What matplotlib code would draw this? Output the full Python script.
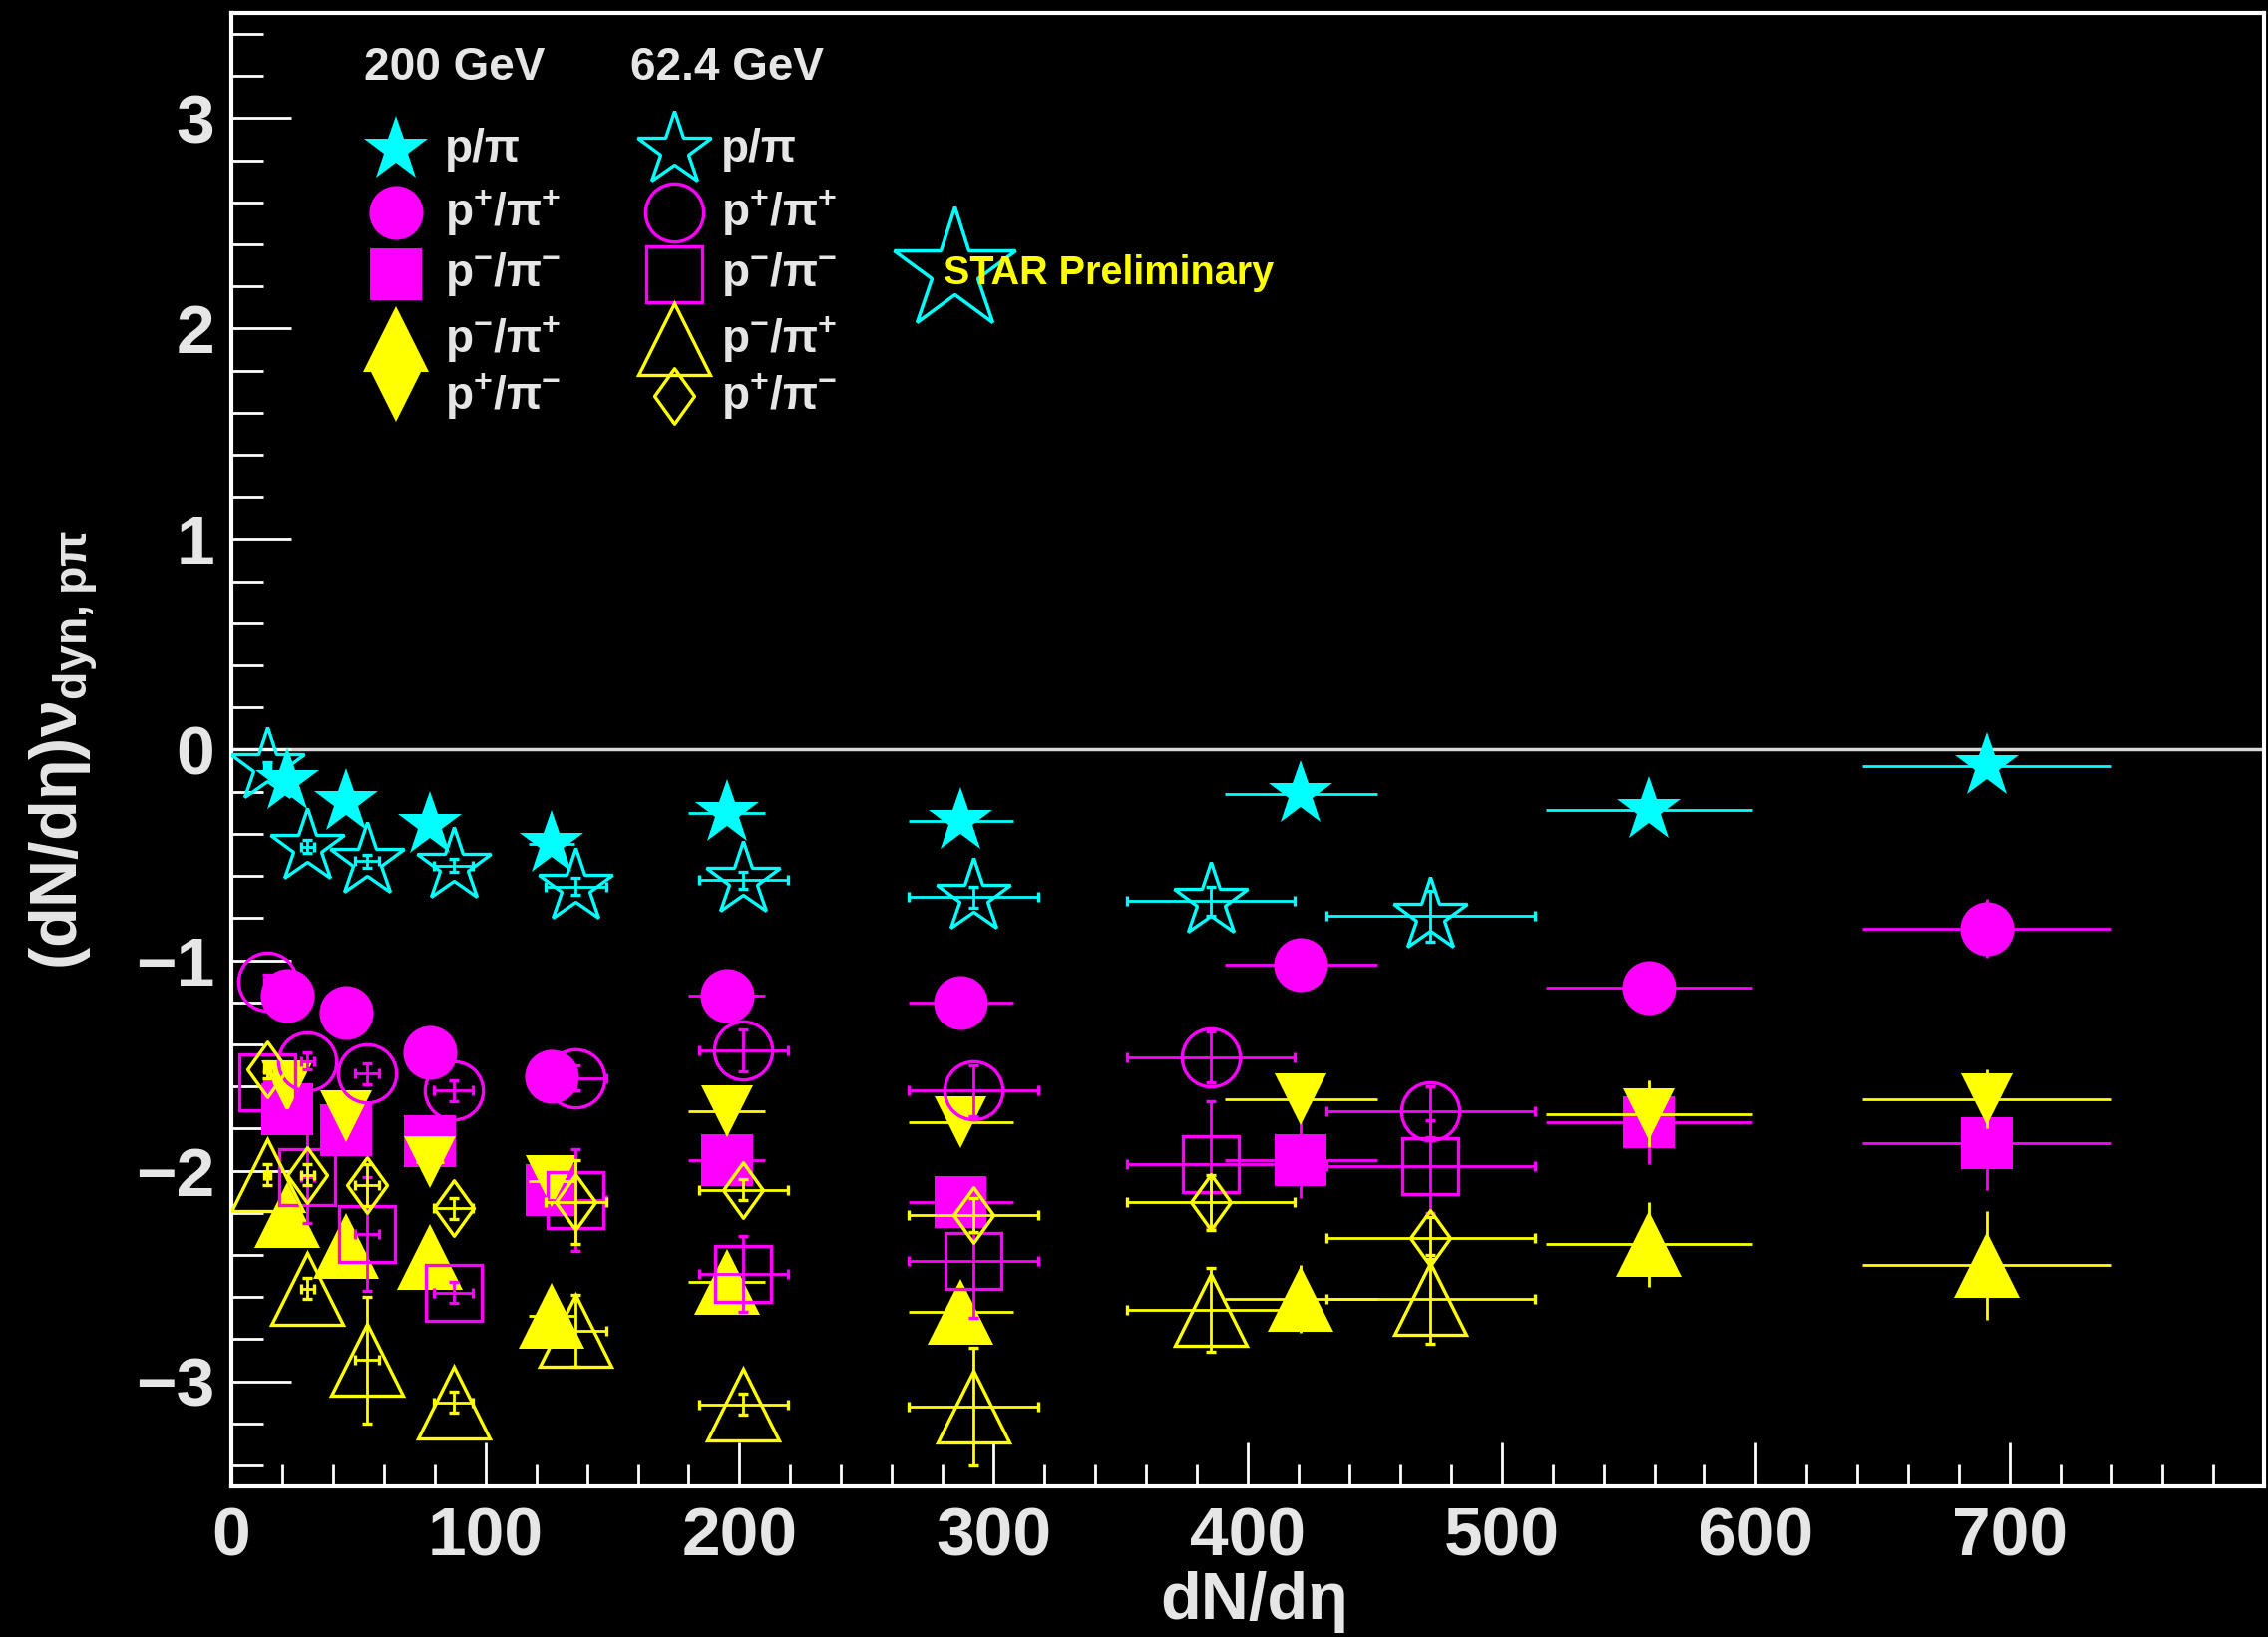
import matplotlib
matplotlib.use('Agg')
import matplotlib.pyplot as plt
import numpy as np
from matplotlib.path import Path
from matplotlib.ticker import MultipleLocator, FixedLocator

plt.rcParams['font.family'] = ['Liberation Sans', 'DejaVu Sans']
plt.rcParams['font.weight'] = 'bold'
plt.rcParams['mathtext.default'] = 'regular'

CYAN = '#00ffff'
MAGENTA = '#ff00ff'
YELLOW = '#ffff00'
FG = '#e6e6e6'

# ---------------- data ----------------
# 200 GeV (filled markers)
x_200 = [22, 45, 78, 126, 195, 287, 421, 558, 691]
xerr_200 = [1.5, 3, 5.5, 9, 15, 20.6, 30, 40.6, 49]
pp_200 = [-0.15, -0.25, -0.36, -0.45, -0.30, -0.34, -0.21, -0.285, -0.08]
pp_200_err = [0.02, 0.02, 0.02, 0.03, 0.03, 0.03, 0.04, 0.04, 0.04]
ppl_200 = [-1.17, -1.25, -1.44, -1.55, -1.17, -1.20, -1.02, -1.13, -0.85]
ppl_200_err = [0.03, 0.03, 0.03, 0.04, 0.04, 0.05, 0.06, 0.08, 0.14]
pmi_200 = [-1.71, -1.81, -1.86, -2.09, -1.95, -2.15, -1.95, -1.77, -1.87]
pmi_200_err = [0.04, 0.04, 0.05, 0.06, 0.06, 0.08, 0.18, 0.20, 0.22]
pmpl_200 = [-2.21, -2.36, -2.41, -2.69, -2.53, -2.67, -2.61, -2.35, -2.45]
pmpl_200_err = [0.04, 0.05, 0.05, 0.06, 0.06, 0.10, 0.16, 0.20, 0.26]
pplm_200 = [-1.60, -1.74, -1.96, -2.05, -1.72, -1.77, -1.66, -1.73, -1.66]
pplm_200_err = [0.03, 0.04, 0.04, 0.05, 0.05, 0.07, 0.10, 0.16, 0.14]

# 62.4 GeV (open markers)
x_62 = [14, 30, 53.5, 87.5, 135.5, 201.5, 292, 385.5, 472]
xerr_62 = [1.2, 2.6, 4.7, 7.6, 12, 17.4, 25.5, 33, 41]
pp_62 = [-0.08, -0.46, -0.53, -0.55, -0.65, -0.62, -0.70, -0.72, -0.79]
pp_62_err = [0.02, 0.03, 0.03, 0.03, 0.04, 0.04, 0.05, 0.07, 0.12]
ppl_62 = [-1.10, -1.48, -1.54, -1.62, -1.56, -1.43, -1.62, -1.46, -1.72]
ppl_62_err = [0.03, 0.04, 0.05, 0.05, 0.06, 0.10, 0.12, 0.12, 0.12]
pmi_62 = [-1.58, -2.03, -2.30, -2.58, -2.14, -2.49, -2.43, -1.97, -1.98]
pmi_62_err = [0.05, 0.22, 0.27, 0.05, 0.24, 0.18, 0.27, 0.30, 0.22]
pmpl_62 = [-2.02, -2.56, -2.90, -3.10, -2.76, -3.11, -3.12, -2.66, -2.61]
pmpl_62_err = [0.05, 0.05, 0.30, 0.05, 0.17, 0.05, 0.28, 0.20, 0.21]
pplm_62 = [-1.52, -2.02, -2.07, -2.18, -2.15, -2.09, -2.21, -2.15, -2.32]
pplm_62_err = [0.04, 0.05, 0.10, 0.05, 0.20, 0.05, 0.08, 0.13, 0.10]

labels = ['p/π', 'p$^{+}$/π$^{+}$', 'p$^{-}$/π$^{-}$', 'p$^{-}$/π$^{+}$', 'p$^{+}$/π$^{-}$']

DIAMOND = Path([(0, 1), (0.72, 0), (0, -1), (-0.72, 0), (0, 1)],
               [Path.MOVETO, Path.LINETO, Path.LINETO, Path.LINETO, Path.CLOSEPOLY])

# ---------------- figure ----------------
fig = plt.figure(figsize=(22.74, 16.41), dpi=100, facecolor='black')
ax = fig.add_axes([0.1020, 0.0920, 0.8962, 0.9001], facecolor='black')

ax.set_xlim(0, 800)
ax.set_ylim(-3.5, 3.5)

ax.axhline(0, color='#d8d8d8', lw=2.5, zorder=1)

err_kw = dict(elinewidth=2.0, capsize=3.5, capthick=2.0, linestyle='none')

series_200 = [
    (pp_200, pp_200_err, '*', CYAN, 49),
    (ppl_200, ppl_200_err, 'o', MAGENTA, 39),
    (pmi_200, pmi_200_err, 's', MAGENTA, 38),
    (pplm_200, pplm_200_err, 'v', YELLOW, 38),
    (pmpl_200, pmpl_200_err, '^', YELLOW, 47),
]
series_62 = [
    (pp_62, pp_62_err, '*', CYAN, 56),
    (ppl_62, ppl_62_err, 'o', MAGENTA, 42),
    (pmi_62, pmi_62_err, 's', MAGENTA, 40),
    (pplm_62, pplm_62_err, DIAMOND, YELLOW, 40),
    (pmpl_62, pmpl_62_err, '^', YELLOW, 52),
]

z = 3
for y, ye, m, c, ms in series_200:
    ax.errorbar(x_200, y, xerr=xerr_200, yerr=ye, marker=m, color=c, ms=ms,
                mfc=c, mec=c, mew=0, zorder=z, **err_kw)
    z += 1
for y, ye, m, c, ms in series_62:
    ax.errorbar(x_62, y, xerr=xerr_62, yerr=ye, marker=m, color=c, ms=ms,
                mfc='none', mec=c, mew=2.4, zorder=z, **err_kw)
    z += 1

# ---------------- axes styling ----------------
for s in ax.spines.values():
    s.set_color('white')
    s.set_linewidth(3)

ax.xaxis.set_major_locator(FixedLocator(np.arange(0, 800, 100)))
ax.xaxis.set_minor_locator(FixedLocator(np.arange(0, 800, 20)))
ax.yaxis.set_major_locator(MultipleLocator(1))
ax.yaxis.set_minor_locator(MultipleLocator(0.2))

ax.tick_params(axis='x', which='major', direction='in', length=32, width=2,
               color='white', labelcolor=FG, labelsize=50, pad=14)
ax.tick_params(axis='x', which='minor', direction='in', length=16, width=2, color='white')
ax.tick_params(axis='y', which='major', direction='in', length=43, width=2,
               color='white', labelcolor=FG, labelsize=50, pad=12)
ax.tick_params(axis='y', which='minor', direction='in', length=23, width=2, color='white')
for lab in ax.get_xticklabels() + ax.get_yticklabels():
    lab.set_fontweight('bold')

fig.text(0.028, 0.542, '(dN/dη)ν$_{dyn,pπ}$', rotation=90, ha='center', va='center',
         fontsize=48, color=FG, fontweight='bold')
fig.text(0.553, 0.011, 'dN/dη', ha='center', va='baseline', fontsize=48,
         color=FG, fontweight='bold')

# ---------------- legend ----------------
tr = ax.transAxes
ax.text(0.110, 0.963, '200 GeV', transform=tr, ha='center', va='center',
        fontsize=33, color=FG, fontweight='bold')
ax.text(0.244, 0.963, '62.4 GeV', transform=tr, ha='center', va='center',
        fontsize=33, color=FG, fontweight='bold')
rows = [0.907, 0.8646, 0.8223, 0.7786, 0.740]
leg_200 = [series_200[0], series_200[1], series_200[2], series_200[4], series_200[3]]
leg_62 = [series_62[0], series_62[1], series_62[2], series_62[4], series_62[3]]
for i, yy in enumerate(rows):
    _, _, m, c, ms = leg_200[i]
    ax.plot([0.081], [yy], marker=m, ms=ms, color=c, mew=0, transform=tr,
            clip_on=False, linestyle='none', zorder=20)
    ax.text(0.105, yy, labels[i], transform=tr, ha='left', va='center',
            fontsize=33, color=FG, fontweight='bold')
    _, _, m, c, ms = leg_62[i]
    ax.plot([0.218], [yy], marker=m, ms=ms, mfc='none', mec=c, mew=2.4,
            transform=tr, clip_on=False, linestyle='none', zorder=20)
    ax.text(0.241, yy, labels[i], transform=tr, ha='left', va='center',
            fontsize=33, color=FG, fontweight='bold')

# STAR Preliminary
ax.plot([0.3557], [0.825], marker='*', ms=92, mfc='black', mec=CYAN, mew=2.5,
        transform=tr, linestyle='none', zorder=20)
ax.text(0.3505, 0.823, 'STAR Preliminary', transform=tr, ha='left', va='center',
        fontsize=28.5, color=YELLOW, fontweight='bold', zorder=21)

fig.savefig('out.png', dpi=100, facecolor='black')
